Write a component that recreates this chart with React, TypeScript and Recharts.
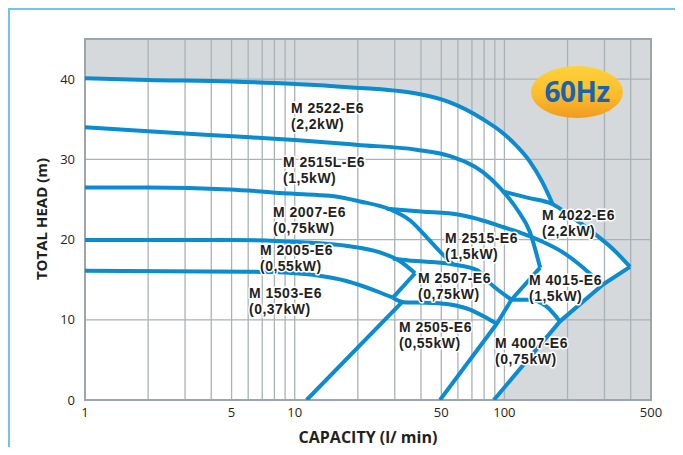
import React from "react";
import {
  Area,
  ComposedChart,
  Line,
  ReferenceArea,
  ReferenceLine,
  XAxis,
  YAxis,
} from "recharts";

type Pt = { q: number; h: number };
const pts = (rows: number[][]): Pt[] => rows.map(([q, h]) => ({ q, h }));

// capacity (l/min) vs total head (m)
const m2522 = pts([[1, 40.1], [2, 39.9], [5, 39.7], [10, 39.4], [18, 39.0], [38, 38.2], [55, 37.1], [79, 35.0], [98.6, 33.25], [115, 31.6], [132, 29.75], [151, 27.25], [170, 24.4]]);
const m2515L = pts([[1, 34.0], [2, 33.5], [4.8, 32.9], [10, 32.4], [20, 31.8], [38, 31.2], [55, 30.4], [79, 28.4], [95.5, 26.4], [115, 23.75], [132, 21.0], [148, 16.5]]);
const m4022 = pts([[98, 26.0], [130, 25.2], [170, 24.4], [210, 22.8], [264, 20.9], [330, 18.8], [397, 16.6]]);
const m2007 = pts([[1, 26.5], [2, 26.5], [4.9, 26.25], [10, 25.7], [14.7, 25.45], [20.5, 24.75], [28.5, 23.75], [35.4, 22.4], [41.9, 20.5], [49.3, 18.5], [56.9, 16.9]]);
const m2515 = pts([[27.5, 23.85], [40, 23.5], [61, 23.1], [76, 22.5], [100, 21.5], [118, 20.9], [150, 19.8], [190, 18.4], [230, 16.8], [265, 15.4], [295, 14.4]]);
const m2005 = pts([[1, 19.95], [5, 19.95], [8.5, 19.8], [12, 19.6], [17.8, 19.2], [25.5, 18.4], [31.8, 17.3], [37.5, 15.8]]);
const m2507 = pts([[29.4, 17.6], [35, 17.4], [45, 17.2], [56.9, 16.9], [74, 16.2], [85, 14.6], [108, 12.5]]);
const m1503 = pts([[1, 16.1], [6, 16.0], [9, 15.9], [12.2, 15.6], [17.8, 14.8], [25.5, 13.4], [29.4, 12.75]]);
const m2505 = pts([[29.4, 12.75], [33, 12.2], [45, 12.1], [55, 11.9], [68, 11.3], [80, 10.4], [92, 9.5]]);
const m4007 = pts([[108, 12.5], [132, 12.5], [158, 11.7], [184, 9.8]]);

// limit lines of the performance fields
const limitLeft = pts([[11.4, 0], [32.5, 12.2]]);
const limitLeftUpper = pts([[29.4, 12.75], [37.5, 15.8]]);
const limitMid = pts([[49.3, 0], [92, 9.5], [108, 12.5], [148, 16.5]]);
const limitOuter = pts([[89, 0], [184, 9.8], [295, 14.4], [397, 16.6]]);

const curves = [m2522, m2515L, m4022, m2007, m2515, m2005, m2507, m1503, m2505, m4007];
const limits = [limitLeft, limitLeftUpper, limitMid, limitOuter];

// white working field: under the top curve, then along the M 4022 curve
const envelope = [...m2522, ...m4022.filter((p) => p.q > 170)];

const xTicks = [1, 5, 10, 50, 100, 500];
const yTicks = [0, 10, 20, 30, 40];
const xGrid = [2, 3, 4, 5, 6, 7, 8, 9, 10, 20, 30, 40, 50, 60, 70, 80, 90, 100, 200, 300, 400];
const yGrid = [10, 20, 30, 40];

const curveLabels = [
  { name: "M 2522-E6", power: "(2,2kW)", x: 291, y: 108 },
  { name: "M 2515L-E6", power: "(1,5kW)", x: 283, y: 162 },
  { name: "M 2007-E6", power: "(0,75kW)", x: 273, y: 212 },
  { name: "M 2005-E6", power: "(0,55kW)", x: 260, y: 250 },
  { name: "M 1503-E6", power: "(0,37kW)", x: 249, y: 293 },
  { name: "M 2515-E6", power: "(1,5kW)", x: 445, y: 238 },
  { name: "M 2507-E6", power: "(0,75kW)", x: 418, y: 278 },
  { name: "M 2505-E6", power: "(0,55kW)", x: 399, y: 327 },
  { name: "M 4022-E6", power: "(2,2kW)", x: 542, y: 215 },
  { name: "M 4015-E6", power: "(1,5kW)", x: 529, y: 280 },
  { name: "M 4007-E6", power: "(0,75kW)", x: 495, y: 343 },
];

const BLUE = "#0b8bd0";
const GRAY = "#d5d9db";
const GRID = "#a9b2b6";
const TEXT = "#231f20";
const FONT = "'Open Sans', sans-serif";
const LABEL_FONT = "'Liberation Sans', Arial, sans-serif";

const labelStyle = {
  fontFamily: LABEL_FONT,
  fontWeight: 700,
  fontSize: 14,
  letterSpacing: 0.5,
  fill: TEXT,
  stroke: "#ffffff",
  strokeWidth: 3,
  strokeLinejoin: "round" as const,
  paintOrder: "stroke",
};

export default function App() {
  return (
    <div style={{ position: "relative", width: 667, height: 439, fontFamily: FONT }}>
      <div
        style={{
          position: "absolute",
          left: 0,
          top: 0,
          width: 672,
          height: 447,
          boxSizing: "border-box",
          borderTop: "2px solid #72c2ea",
          borderLeft: "2px solid #72c2ea",
          borderRight: "2px solid #72c2ea",
        }}
      />
      <div style={{ position: "absolute", left: 0, top: 0 }}>
        <ComposedChart width={667} height={447} margin={{ top: 31, right: 24, bottom: 25, left: 37 }}>
          <XAxis
            dataKey="q"
            type="number"
            scale="log"
            domain={[1, 500]}
            ticks={xTicks}
            allowDataOverflow
            height={30}
            axisLine={false}
            tickLine={false}
            tick={{ fontSize: 13, fill: TEXT, fontFamily: FONT }}
          />
          <YAxis
            type="number"
            domain={[0, 45]}
            ticks={yTicks}
            allowDataOverflow
            width={40}
            axisLine={false}
            tickLine={false}
            tickMargin={4}
            tick={{ fontSize: 13, fill: TEXT, fontFamily: FONT }}
          />
          <ReferenceArea x1={1} x2={500} y1={0} y2={45} fill={GRAY} fillOpacity={1} stroke="none" zIndex={50} />
          <Area
            data={envelope}
            dataKey="h"
            type="monotone"
            fill="#ffffff"
            fillOpacity={1}
            stroke="none"
            baseValue={0}
            isAnimationActive={false}
            zIndex={100}
          />
          <Area
            data={limitOuter}
            dataKey="h"
            type="linear"
            fill={GRAY}
            fillOpacity={1}
            stroke="none"
            baseValue={0}
            isAnimationActive={false}
            zIndex={110}
          />
          {xGrid.map((q) => (
            <ReferenceLine key={`x${q}`} x={q} stroke={GRID} strokeWidth={1.3} zIndex={150} />
          ))}
          {yGrid.map((v) => (
            <ReferenceLine key={`y${v}`} y={v} stroke={GRID} strokeWidth={1.3} zIndex={150} />
          ))}
          <ReferenceArea x1={1} x2={500} y1={0} y2={45} fill="none" stroke="#9ca6aa" strokeWidth={2} zIndex={160} />
          {curves.map((d, i) => (
            <Line
              key={`c${i}`}
              data={d}
              dataKey="h"
              type="monotone"
              stroke={BLUE}
              strokeWidth={4}
              strokeLinejoin="round"
              dot={false}
              activeDot={false}
              isAnimationActive={false}
              zIndex={400}
            />
          ))}
          {limits.map((d, i) => (
            <Line
              key={`l${i}`}
              data={d}
              dataKey="h"
              type="linear"
              stroke={BLUE}
              strokeWidth={4}
              strokeLinejoin="round"
              dot={false}
              activeDot={false}
              isAnimationActive={false}
              zIndex={400}
            />
          ))}
        </ComposedChart>
      </div>
      <svg
        width={683}
        height={455}
        style={{ position: "absolute", left: -8, top: -8, pointerEvents: "none" }}
      >
        <defs>
          <linearGradient id="badge" x1="0" y1="0" x2="0" y2="1">
            <stop offset="0%" stopColor="#ffd23a" />
            <stop offset="55%" stopColor="#fbbd2c" />
            <stop offset="100%" stopColor="#f29a1f" />
          </linearGradient>
        </defs>
        {curveLabels.map((l) => (
          <g key={l.name}>
            <text x={l.x} y={l.y + 5} style={labelStyle}>
              {l.name}
            </text>
            <text x={l.x} y={l.y + 21} style={labelStyle}>
              {l.power}
            </text>
          </g>
        ))}
        <ellipse cx={577} cy={92} rx={46} ry={26} fill="url(#badge)" />
        <text
          x={577}
          y={102}
          textAnchor="middle"
          fontFamily={FONT}
          fontWeight={700}
          fontSize={28}
          fill="#1a63ae"
          letterSpacing={-0.5}
        >
          60Hz
        </text>
        <text
          x={47}
          y={219}
          transform="rotate(-90 47 219)"
          textAnchor="middle"
          fontFamily={FONT}
          fontWeight={700}
          fontSize={15}
          fill={TEXT}
        >
          TOTAL HEAD (m)
        </text>
        <text
          x={368}
          y={443}
          textAnchor="middle"
          fontFamily={FONT}
          fontWeight={700}
          fontSize={16}
          fill={TEXT}
        >
          CAPACITY (l/ min)
        </text>
      </svg>
    </div>
  );
}
